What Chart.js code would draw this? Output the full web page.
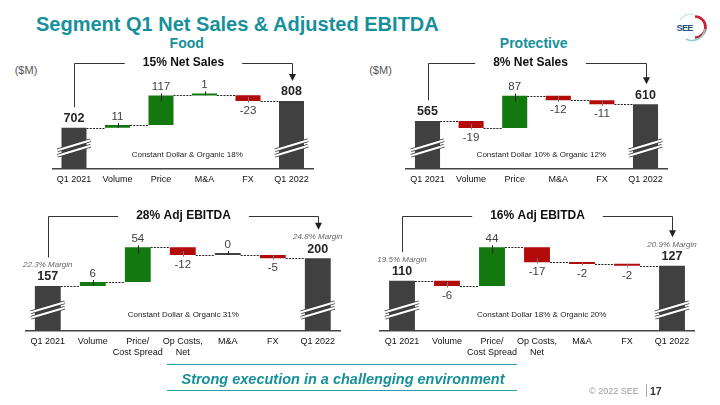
<!DOCTYPE html>
<html><head><meta charset="utf-8">
<script src="https://cdn.jsdelivr.net/npm/chart.js@4.4.1/dist/chart.umd.min.js"></script>
<style>
html,body{margin:0;padding:0;background:#fff;}
body{width:720px;height:405px;position:relative;overflow:hidden;font-family:"Liberation Sans",Arial,sans-serif;}
canvas{position:absolute;left:0;top:0;}
.t{position:absolute;white-space:nowrap;line-height:1;}
.c{transform:translate(-50%,-50%);}
.l{transform:translate(0,-50%);}
.teal{color:#16909a;}
</style></head><body>
<div class="t l teal" style="left:36px;top:24px;font-size:20px;font-weight:bold;">Segment Q1 Net Sales &amp; Adjusted EBITDA</div>
<div class="t c teal" style="left:186.7px;top:43px;font-size:14px;font-weight:bold;">Food</div>
<div class="t c teal" style="left:533.7px;top:43px;font-size:14px;font-weight:bold;">Protective</div>
<div class="t c" style="left:26px;top:69.5px;font-size:11px;color:#555;">($M)</div>
<div class="t c" style="left:380.5px;top:69.5px;font-size:11px;color:#555;">($M)</div>
<svg style="position:absolute;left:672px;top:12px;" width="38" height="30" viewBox="0 0 38 30">
  <path d="M 23 4.5 A 10.5 10.5 0 0 1 23 25.5" fill="none" stroke="#c8202f" stroke-width="2.6"/>
  <path d="M 33 17 A 13 13 0 0 1 14 27" fill="none" stroke="#8fcfd2" stroke-width="1.8"/>
  <path d="M 8 8 A 12 12 0 0 1 22 3" fill="none" stroke="#cfe6e8" stroke-width="1.5"/>
  <text x="4.5" y="18.5" font-family="Liberation Sans, Arial" font-weight="bold" font-size="9" fill="#1d4f7a" letter-spacing="-0.6">SEE</text>
</svg>
<canvas id="c1" width="720" height="405"></canvas>
<canvas id="c2" width="720" height="405"></canvas>
<canvas id="c3" width="720" height="405"></canvas>
<canvas id="c4" width="720" height="405"></canvas>
<div style="position:absolute;left:167px;top:364px;width:350px;border-top:1.5px solid #2a9da6;"></div>
<div style="position:absolute;left:167px;top:390px;width:350px;border-top:1.5px solid #2a9da6;"></div>
<div class="t c teal" style="left:343px;top:379px;font-size:14.5px;font-weight:bold;font-style:italic;">Strong execution in a challenging environment</div>
<div class="t l" style="left:589px;top:391px;font-size:9px;color:#9a9a9a;">© 2022 SEE</div>
<div style="position:absolute;left:646px;top:384px;height:13px;border-left:1px solid #aaa;"></div>
<div class="t l" style="left:650px;top:390.5px;font-size:10.5px;font-weight:bold;color:#333;">17</div>
<script>
const FONT = '"Liberation Sans", Arial, sans-serif';
const salesCats = ['Q1 2021', 'Volume', 'Price', 'M&A', 'FX', 'Q1 2022'];
const ebitdaCats = ['Q1 2021', 'Volume', ['Price/', 'Cost Spread'], ['Op Costs,', 'Net'], 'M&A', 'FX', 'Q1 2022'];
const foodSales = [702, 11, 117, 1, -23, 808];
const protSales = [565, -19, 87, -12, -11, 610];
const foodEbitda = [157, 6, 54, -12, 0, -5, 200];
const protEbitda = [110, -6, 44, -17, -2, -2, 127];
const foodMargins = ['22.3% Margin', '24.8% Margin'];
const protMargins = ['19.5% Margin', '20.9% Margin'];
const headlines = ['15% Net Sales', '8% Net Sales', '28% Adj EBITDA', '16% Adj EBITDA'];
const notes = ['Constant Dollar & Organic 18%', 'Constant Dollar 10% & Organic 12%', 'Constant Dollar & Organic 31%', 'Constant Dollar 18% & Organic 20%'];

const TOTAL = '#404040', GREEN = '#13780f', RED = '#b30a0a';
const AXH = 30;

const wf = {
  id: 'wf',
  afterDatasetsDraw(chart, args, o) {
    const ctx = chart.ctx, ys = chart.scales.y, area = chart.chartArea;
    const bars = chart.getDatasetMeta(0).data;
    const v = o.vals, n = v.length;
    const lvl = []; let run = v[0];
    for (let i = 0; i < n; i++) {
      if (i === 0) lvl.push(v[0]);
      else if (i === n - 1) lvl.push(v[n - 1]);
      else { run += v[i]; lvl.push(run); }
    }
    ctx.save();
    // dotted connectors
    ctx.strokeStyle = '#222'; ctx.lineWidth = 1; ctx.setLineDash([2, 1.2]);
    for (let i = 0; i < n - 1; i++) {
      const a = bars[i], b = bars[i + 1];
      const py = Math.round(ys.getPixelForValue(lvl[i])) + 0.5;
      ctx.beginPath(); ctx.moveTo(a.x + a.width / 2, py); ctx.lineTo(b.x - b.width / 2, py); ctx.stroke();
    }
    ctx.setLineDash([]);
    // axis break marks
    for (const i of [0, n - 1]) {
      const b = bars[i];
      const l = b.x - b.width / 2 - 4, r = b.x + b.width / 2 + 4, cy = area.bottom - 21;
      for (const pass of [['#3a3a3a', 3.4], ['#ffffff', 2]]) {
        for (const off of [-2.75, 2.75]) {
          ctx.beginPath(); ctx.moveTo(l, cy + off + 5); ctx.lineTo(r, cy + off - 5);
          ctx.strokeStyle = pass[0]; ctx.lineWidth = pass[1]; ctx.stroke();
        }
      }
    }
    // labels
    ctx.textAlign = 'center'; ctx.textBaseline = 'middle';
    const tops = {};
    for (let i = 0; i < n; i++) {
      const b = bars[i];
      if (i === 0 || i === n - 1) {
        const ty = ys.getPixelForValue(v[i]);
        ctx.font = 'bold 12.5px ' + FONT; ctx.fillStyle = '#262626';
        ctx.fillText(String(v[i]), b.x, ty - 9);
        tops[i] = ty - 9;
        if (o.margins) {
          const my = ty - 21;
          ctx.font = 'italic 8px ' + FONT; ctx.fillStyle = '#666';
          ctx.fillText(o.margins[i === 0 ? 0 : 1], b.x, my);
          tops[i] = my;
        }
      } else {
        const t = Math.min(b.y, b.base), btm = Math.max(b.y, b.base);
        const xx = Math.round(b.x) + 0.5;
        ctx.font = '11.5px ' + FONT; ctx.fillStyle = '#404040';
        ctx.lineWidth = 1;
        if (v[i] >= 0) {
          ctx.fillText(String(v[i]), b.x, t - 8.5);
          ctx.strokeStyle = '#222';
          ctx.beginPath(); ctx.moveTo(xx, t - 2); ctx.lineTo(xx, t + Math.min(6, btm - t)); ctx.stroke();
        } else {
          ctx.fillText(String(v[i]), b.x, btm + 10);
          ctx.strokeStyle = '#777';
          ctx.beginPath(); ctx.moveTo(xx, btm + 1.5); ctx.lineTo(xx, btm - Math.min(4, btm - t)); ctx.stroke();
        }
      }
    }
    // bracket with headline
    const lx = Math.round(bars[0].x) + 0.5, rx = Math.round(bars[n - 1].x) + 0.5, hy = Math.round(o.bracketY) + 0.5;
    const tx = (lx + rx) / 2 + (o.shift || 0);
    ctx.font = 'bold 12px ' + FONT;
    const tw = ctx.measureText(o.headline).width;
    ctx.fillStyle = '#111';
    ctx.fillText(o.headline, tx, o.bracketY);
    const lEnd = tops[0] - (o.margins ? 7.5 : 11.5);
    const tip = tops[n - 1] - (o.margins ? 7.5 : 11);
    ctx.strokeStyle = '#333'; ctx.lineWidth = 1;
    ctx.beginPath();
    ctx.moveTo(lx, lEnd); ctx.lineTo(lx, hy); ctx.lineTo(tx - tw / 2 - 18, hy);
    ctx.moveTo(tx + tw / 2 + 18, hy); ctx.lineTo(rx, hy); ctx.lineTo(rx, tip - 6);
    ctx.stroke();
    ctx.beginPath(); ctx.moveTo(rx - 3.5, tip - 7); ctx.lineTo(rx + 3.5, tip - 7); ctx.lineTo(rx, tip); ctx.closePath();
    ctx.fillStyle = '#222'; ctx.fill();
    // note
    ctx.font = '8px ' + FONT; ctx.fillStyle = '#222';
    ctx.fillText(o.note, (area.left + area.right) / 2 + (o.noteShift || 0), o.noteY);
    ctx.restore();
  }
};

function makeChart(id, cats, vals, cfg) {
  const n = vals.length, data = [], colors = [];
  let run = vals[0];
  for (let i = 0; i < n; i++) {
    if (i === 0 || i === n - 1) { data.push(vals[i]); colors.push(TOTAL); }
    else {
      const s = run; run += vals[i];
      data.push([s, run]);
      colors.push(vals[i] > 0 ? GREEN : vals[i] < 0 ? RED : TOTAL);
    }
  }
  cfg.vals = vals;
  return new Chart(document.getElementById(id), {
    type: 'bar',
    data: { labels: cats, datasets: [{ data, backgroundColor: colors, borderWidth: 0, minBarLength: 2, clip: 0, categoryPercentage: 1, barPercentage: 0.575 }] },
    options: {
      responsive: false, animation: false, events: [],
      layout: { padding: { left: cfg.left, right: 720 - cfg.right, top: cfg.top, bottom: 405 - cfg.bottom - AXH } },
      scales: {
        x: {
          grid: { display: false, drawTicks: false },
          border: { display: true, color: '#444', width: 1.5 },
          ticks: { font: { family: FONT, size: 9, lineHeight: 1.2 }, color: '#111', padding: 5, maxRotation: 0, autoSkip: false },
          afterFit(s) { s.height = AXH; }
        },
        y: { display: false, min: cfg.min, max: cfg.max }
      },
      plugins: { legend: { display: false }, tooltip: { enabled: false }, wf: cfg }
    },
    plugins: [wf]
  });
}

makeChart('c1', salesCats, foodSales, { left: 52.25, right: 313.25, top: 77.8, bottom: 169, min: 538, max: 900, bracketY: 63, headline: headlines[0], note: notes[0], noteY: 154.3, noteShift: 4.5 });
makeChart('c2', salesCats, protSales, { left: 405.7, right: 667.3, top: 71, bottom: 169, min: 435, max: 700, bracketY: 63, shift: -7, headline: headlines[1], note: notes[1], noteY: 154.3, noteShift: 4.8 });
makeChart('c3', ebitdaCats, foodEbitda, { left: 25.3, right: 340.3, top: 219.6, bottom: 331, min: 87, max: 260, bracketY: 215.7, headline: headlines[2], note: notes[2], noteY: 315, noteShift: 0.5, margins: foodMargins });
makeChart('c4', ebitdaCats, protEbitda, { left: 379.5, right: 694.5, top: 236.6, bottom: 331, min: 53, max: 160, bracketY: 215.7, headline: headlines[3], note: notes[3], noteY: 315, noteShift: 4.7, margins: protMargins });
</script>
</body></html>
